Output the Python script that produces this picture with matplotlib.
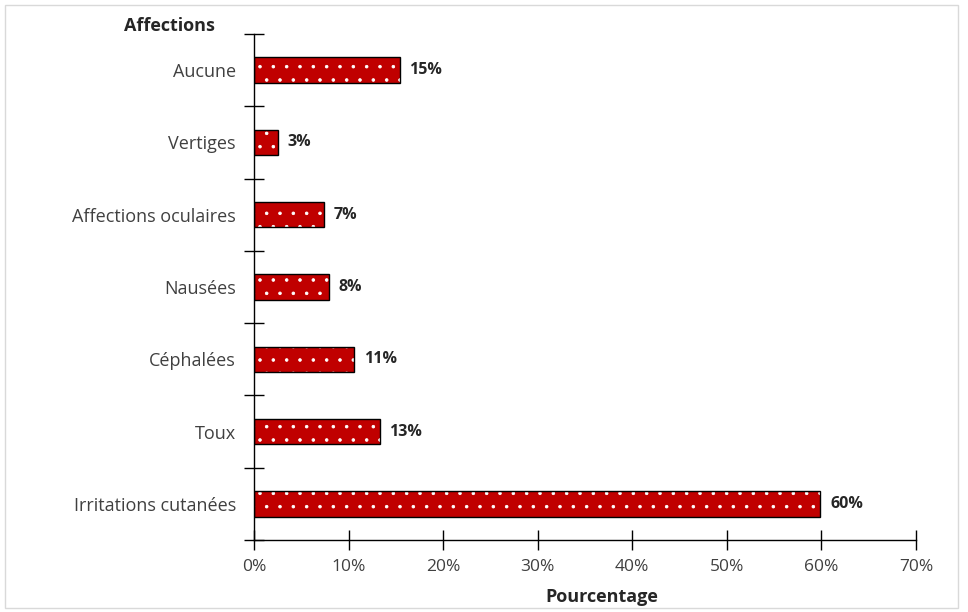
import matplotlib.pyplot as plt
from matplotlib.patches import Rectangle
from matplotlib.ticker import FixedLocator, PercentFormatter

# rendu a 80 dpi pour que le motif de points ait le bon espacement
DPI = 80
S = 100 / DPI  # facteur pour garder les tailles en pixels

plt.rcParams['font.family'] = ['Open Sans', 'DejaVu Sans']
plt.rcParams['hatch.linewidth'] = 0.6 * S

affections = ["Irritations cutanées", "Toux", "Céphalées", "Nausées",
              "Affections oculaires", "Vertiges", "Aucune"]
pourcentages = [59.9, 13.3, 10.6, 7.9, 7.4, 2.5, 15.4]
etiquettes = ["60%", "13%", "11%", "8%", "7%", "3%", "15%"]

fig = plt.figure(figsize=(968 / DPI, 612 / DPI), dpi=DPI)
ax = fig.add_axes([254 / 968, 1 - 540 / 612, (916 - 254) / 968, (540 - 34) / 612])

# bordure grise du graphique
fig.patches.append(Rectangle((5 / 968, 4 / 612), 953 / 968, 603 / 612,
                             transform=fig.transFigure, fill=False,
                             edgecolor="#d9d9d9", linewidth=1 * S))

pos = list(range(len(affections)))
# remplissage rouge + points blancs
ax.barh(pos, pourcentages, height=0.35, color="#c00000", edgecolor="white",
        hatch=".", linewidth=0)
# contour noir
ax.barh(pos, pourcentages, height=0.35, fill=False, edgecolor="black", linewidth=1 * S)

for p, v, t in zip(pos, pourcentages, etiquettes):
    ax.annotate(t, (v, p), xytext=(7 * S, 0), textcoords="offset points",
                va="center", ha="left", fontsize=11.5 * S, fontweight="bold", color="#262626")

ax.set_xlim(0, 70)
ax.set_ylim(-0.5, len(affections) - 0.5)
ax.xaxis.set_major_locator(FixedLocator(range(0, 71, 10)))
ax.xaxis.set_major_formatter(PercentFormatter(decimals=0))

ax.yaxis.set_major_locator(FixedLocator([p - 0.5 for p in range(len(affections) + 1)]))
ax.yaxis.set_major_formatter(plt.NullFormatter())
ax.yaxis.set_minor_locator(FixedLocator(pos))
ax.set_yticklabels(affections, minor=True)
ax.tick_params(axis="y", which="major", direction="inout", length=14 * S, width=1 * S)
ax.tick_params(axis="y", which="minor", length=0, pad=13 * S, labelsize=13 * S,
               labelcolor="#404040")
ax.tick_params(axis="x", direction="inout", length=14 * S, width=1 * S, pad=7 * S,
               labelsize=12.5 * S, labelcolor="#404040")

for s in ["top", "right"]:
    ax.spines[s].set_visible(False)
for s in ["left", "bottom"]:
    ax.spines[s].set_color("black")
    ax.spines[s].set_linewidth(1 * S)

fig.text(169 / 968, 1 - 26 / 612, "Affections", ha="center", va="center",
         fontsize=13 * S, fontweight="bold", color="#262626")
fig.text(602 / 968, 1 - 597 / 612, "Pourcentage", ha="center", va="center",
         fontsize=13 * S, fontweight="bold", color="#262626")

fig.savefig("out.png", dpi=DPI)
